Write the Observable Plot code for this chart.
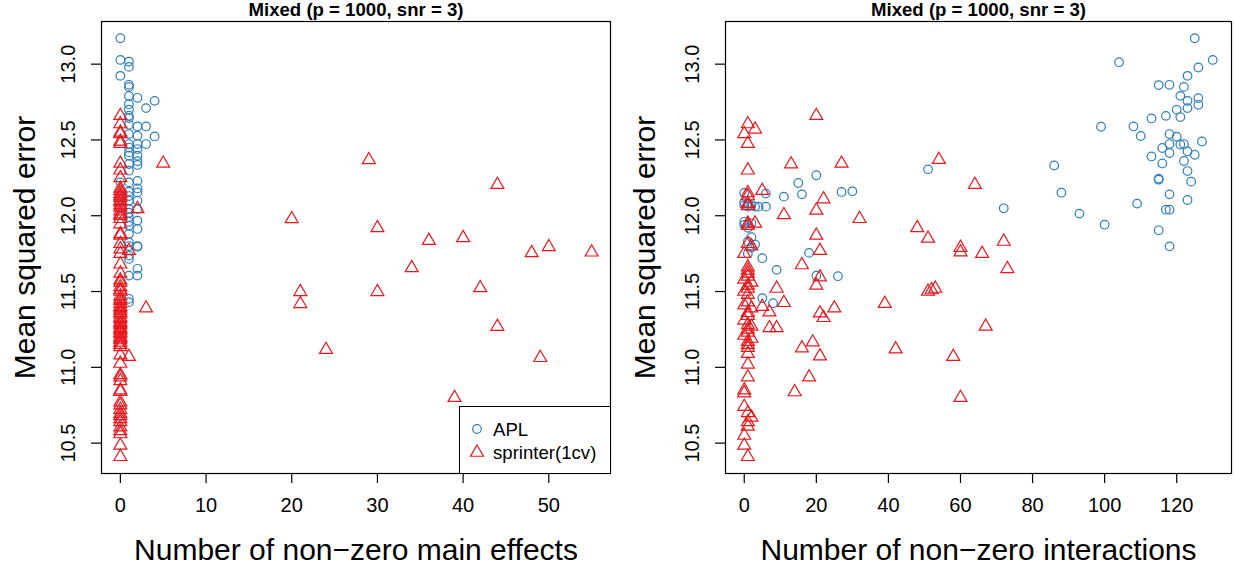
<!DOCTYPE html>
<html>
<head>
<meta charset="utf-8">
<script src="https://cdn.jsdelivr.net/npm/d3@7"></script>
<script src="https://cdn.jsdelivr.net/npm/@observablehq/plot@0.6"></script>
<style>
  body { margin: 0; background: #fff; }
  #wrap { position: relative; width: 1234px; height: 567px; overflow: hidden; background: #fff;
          font-family: "Liberation Sans", Arial, Helvetica, sans-serif; }
  #wrap > svg { position: absolute; top: 0; }
  #legend { position: absolute; left: 459px; top: 406px; width: 152px; height: 68px;
            box-sizing: border-box; border: 1.2px solid #000; background: #fff; }
</style>
</head>
<body>
<div id="wrap"></div>
<script>
// ---------- text ----------
const panelTitle = "Mixed (p = 1000, snr = 3)";
const yLabel = "Mean squared error";
const xLabelMain = "Number of non\u2212zero main effects";
const xLabelInter = "Number of non\u2212zero interactions";
const seriesNames = ["APL", "sprinter(1cv)"];

// ---------- tick values ----------
const yTicks = [10.5, 11.0, 11.5, 12.0, 12.5, 13.0];
const xTicksMain = [0, 10, 20, 30, 40, 50];
const xTicksInter = [0, 20, 40, 60, 80, 100, 120];

// ---------- left panel: main effects ----------
const aplMainX = [0,0,0,0,0,0,
  1,1,1,1,1,1,1,1,1,1,1,1,1,1,1,1,1,1,1,1,1,1,1,1,1,1,1,1,1,1,1,1,1,1,
  2,2,2,2,2,2,2,2,2,2,2,2,2,2,2,2,2,2,2,
  3,3,3, 4,4];
const aplMainMSE = [13.171,13.028,12.923,12.22,12.11,12.05,
  13.017,12.982,12.864,12.85,12.79,12.736,12.70,12.66,12.644,12.539,12.473,12.418,12.396,12.341,12.297,12.22,12.159,12.099,12.045,11.99,11.935,11.88,11.825,11.737,11.715,11.605,11.452,11.43,12.60,12.45,12.13,11.96,11.80,12.02,
  12.778,12.589,12.528,12.473,12.396,12.335,12.23,12.154,12.099,12.045,11.968,11.913,11.796,11.80,11.65,11.605,12.44,12.36,12.18,
  12.71,12.589,12.473, 12.758,12.523];

const sprMainX = [
  0,0,0,0,0,0,0,0,0,0,0,0,0,0,0,0,0,0,0,0,
  0,0,0,0,0,0,0,0,0,0,0,0,0,0,0,0,0,0,0,0,
  0,0,0,0,0,0,0,0,0,0,0,0,0,0,0,0,0,0,0,0,
  0,0,0,0,0,0,0,0,0,0,0,0,0,0,0,0,0,0,0,
  1,1,2,3,5,
  20,21,21,24,29,30,30,34,36,39,40,42,44,44,48,49,50,55];
const sprMainMSE = [
  12.66,12.605,12.55,12.54,12.475,12.345,12.30,12.18,12.165,12.145,12.13,12.12,12.10,12.07,12.055,12.01,12.0,11.945,11.88,11.87,
  11.815,11.78,11.75,11.68,11.62,11.575,11.53,11.50,11.47,11.44,11.42,11.40,11.375,11.35,11.33,11.30,11.28,11.26,11.245,11.22,
  11.20,11.18,11.165,11.135,11.08,11.025,10.95,10.935,10.85,10.84,10.77,10.75,10.695,10.66,10.64,10.605,10.56,10.485,10.41,11.56,
  11.51,11.45,11.39,11.36,11.32,11.29,11.25,11.23,11.19,11.15,12.09,12.03,11.98,10.91,10.72,10.58,10.68,12.49,12.25,
  11.77,11.07,12.045,11.39,12.345,
  11.979,11.498,11.419,11.116,12.368,11.920,11.498,11.656,11.836,10.80,11.854,11.524,12.205,11.269,11.755,11.063,11.794,11.759];

// ---------- right panel: interactions ----------
const aplInterX = [
  125,104,130,126,123,115,118,122,121,123,126,126,123,120,117,121,113,99,108,110,
  118,120,118,122,121,116,123,118,127,125,113,116,122,123,115,115,124,118,123,109,
  117,118,115,118,86,88,93,100,72,51,
  15,16,11,27,30,20,0,6,0,1,2,3,4,6,0,1,0,2,0,2,3,1,5,9,18,20,26,5,8,1,2,1];
const aplInterMSE = [
  13.171,13.013,13.028,12.978,12.923,12.862,12.864,12.850,12.791,12.758,12.776,12.732,12.710,12.699,12.659,12.651,12.642,12.587,12.589,12.526,
  12.539,12.521,12.473,12.473,12.47,12.447,12.424,12.414,12.490,12.402,12.391,12.345,12.361,12.295,12.238,12.245,12.225,12.141,12.104,12.080,
  12.040,12.040,11.904,11.798,12.332,12.152,12.014,11.941,12.049,12.306,
  12.216,12.141,12.126,12.157,12.161,12.267,12.15,12.146,12.07,12.06,12.07,12.06,12.06,12.06,12.09,12.08,11.94,11.95,11.96,11.858,11.81,11.75,11.72,11.643,11.755,11.604,11.601,11.456,11.423,11.92,11.79,11.83];

const sprInterX = [
  20,13,27,5,22,20,11,32,48,20,21,16,21,20,9,39,25,21,22,5,7,11,7,9,19,16,21,42,18,14,
  54,64,51,60,60,66,72,73,51,52,53,58,60,67,
  3,1,0,1,1,1,1,1,1,1,3,1,1,2,0,1,1,1,1,0,2,1,1,0,1,1,0,2,1,1,0,1,2,1,1,0,2,1,1,1,1,1,1,0,0,0,1,2,1,1,0,0,1];
const sprInterMSE = [
  12.66,12.34,12.345,12.165,12.11,12.035,12.005,11.98,11.92,11.87,11.77,11.675,11.595,11.54,11.52,11.42,11.39,11.357,11.327,11.40,11.364,11.426,11.26,11.26,11.166,11.127,11.074,11.12,10.935,10.837,
  12.37,12.205,11.85,11.79,11.76,11.75,11.83,11.65,11.50,11.51,11.52,11.07,10.80,11.27,
  12.57,12.605,12.54,12.475,12.30,12.15,12.13,12.08,12.065,11.95,11.95,11.935,11.815,11.80,11.75,11.66,11.64,11.62,11.60,11.58,11.56,11.54,11.52,11.50,11.48,11.43,11.41,11.39,11.36,11.34,11.31,11.28,11.27,11.25,11.23,11.21,11.19,11.17,11.15,11.13,11.09,11.02,10.935,10.85,10.83,10.74,10.70,10.67,10.64,10.61,10.55,10.485,10.41];

// ---------- style ----------
const BLUE = "#2E7EBB";
const RED = "#E8171C";
const FONT = "'Liberation Sans', Arial, Helvetica, sans-serif";

const zip = (xs, ys) => xs.map((x, i) => ({x, y: ys[i]}));
const pad4 = ([a, b]) => { const d = (b - a) * 0.04; return [a - d, b + d]; };

const yDomain = pad4(d3.extent([...aplMainMSE, ...sprMainMSE, ...aplInterMSE, ...sprInterMSE]));

function panel(o) {
  return Plot.plot({
    width: 617, height: 567,
    marginLeft: o.mL, marginRight: o.mR, marginTop: 21, marginBottom: 94,
    x: {domain: o.xDomain},
    y: {domain: yDomain},
    style: {fontFamily: FONT, background: "transparent", overflow: "visible", color: "#000"},
    marks: [
      Plot.frame({stroke: "#000", strokeWidth: 1.2}),
      Plot.axisX({ticks: o.xTicks, tickSize: 10, tickFormat: () => "", label: null, strokeWidth: 1.2}),
      Plot.axisY({ticks: yTicks, tickSize: 10, tickFormat: () => "", label: null, strokeWidth: 1.2}),
      Plot.text(o.xTicks, {x: d => d, text: d => String(d), frameAnchor: "bottom", dy: 32,
        fontSize: 20, lineAnchor: "middle", fill: "#000"}),
      Plot.text(yTicks, {y: d => d, text: d => d.toFixed(1), frameAnchor: "left", dx: -33, rotate: -90,
        fontSize: 20, textAnchor: "middle", lineAnchor: "middle", fill: "#000"}),
      Plot.dot(o.apl, {x: "x", y: "y", symbol: "circle", r: 4.3, stroke: BLUE, strokeWidth: 1.2, fill: "none"}),
      Plot.dot(o.spr, {x: "x", y: "y", symbol: "triangle", r: 4.8, stroke: RED, strokeWidth: 1.2, fill: "none"}),
      Plot.text([panelTitle], {text: d => d, frameAnchor: "top", dy: -11, fontSize: 18.6, fontWeight: "bold",
        lineAnchor: "middle", fill: "#000"}),
      Plot.text([o.xLabel], {text: d => d, frameAnchor: "bottom", dy: 77, fontSize: 30,
        lineAnchor: "middle", fill: "#000"}),
      Plot.text([yLabel], {text: d => d, frameAnchor: "left", dx: o.yLabDx, rotate: -90, fontSize: 30,
        textAnchor: "middle", lineAnchor: "middle", fill: "#000"})
    ]
  });
}

const wrap = document.getElementById("wrap");

const left = panel({
  apl: zip(aplMainX, aplMainMSE), spr: zip(sprMainX, sprMainMSE),
  xDomain: pad4(d3.extent([...aplMainX, ...sprMainX])), xTicks: xTicksMain,
  xLabel: xLabelMain, mL: 101, mR: 7, yLabDx: -76
});
left.style.left = "0px";
wrap.appendChild(left);

const right = panel({
  apl: zip(aplInterX, aplInterMSE), spr: zip(sprInterX, sprInterMSE),
  xDomain: pad4(d3.extent([...aplInterX, ...sprInterX])), xTicks: xTicksInter,
  xLabel: xLabelInter, mL: 108, mR: 3, yLabDx: -80
});
right.style.left = "617px";
wrap.appendChild(right);

// legend (left panel, bottom-right corner)
const leg = document.createElement("div");
leg.id = "legend";
const ns = "http://www.w3.org/2000/svg";
const ls = document.createElementNS(ns, "svg");
ls.setAttribute("width", "150"); ls.setAttribute("height", "66");
const sym = [d3.symbol(d3.symbolCircle, Math.PI * 4.3 * 4.3)(), d3.symbol(d3.symbolTriangle, Math.PI * 4.8 * 4.8)()];
const cols = [BLUE, RED];
seriesNames.forEach((name, i) => {
  const cy = 22 + i * 23.5;
  const p = document.createElementNS(ns, "path");
  p.setAttribute("d", sym[i]);
  p.setAttribute("transform", `translate(17,${cy})`);
  p.setAttribute("fill", "none"); p.setAttribute("stroke", cols[i]); p.setAttribute("stroke-width", "1.2");
  ls.appendChild(p);
  const t = document.createElementNS(ns, "text");
  t.setAttribute("x", "33"); t.setAttribute("y", cy); t.setAttribute("dy", "0.35em");
  t.setAttribute("font-size", "18.6"); t.setAttribute("font-family", FONT);
  t.textContent = name;
  ls.appendChild(t);
});
leg.appendChild(ls);
wrap.appendChild(leg);
</script>
</body>
</html>
